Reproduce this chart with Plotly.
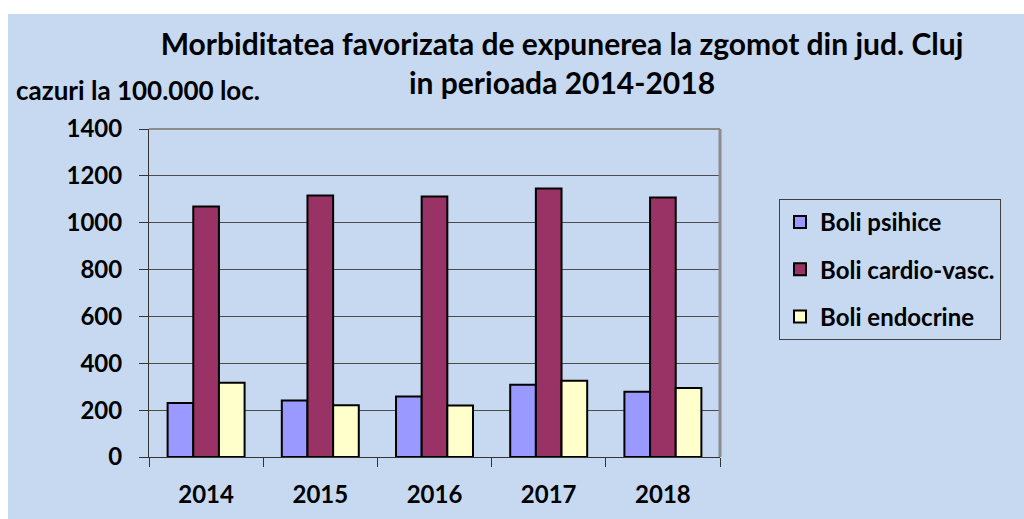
import plotly.graph_objects as go

years = ["2014", "2015", "2016", "2017", "2018"]
series_names = ["Boli psihice", "Boli cardio-vasc.", "Boli endocrine"]
boli_psihice = [230, 241, 258, 308, 279]
boli_cardio = [1069, 1116, 1112, 1146, 1108]
boli_endocrine = [317, 221, 220, 325, 294]
colors = ["#9999FF", "#993366", "#FFFFCC"]
y_ticks = [0, 200, 400, 600, 800, 1000, 1200, 1400]

W, H = 1024, 519
L, R, T, B = 149, 720, 129, 457
pw, ph = R - L, B - T

def px(x):
    return (x - L) / pw

def py(y):
    return (B - y) / ph

FONT = "Lato"
BG = "#C6D9F1"

fig = go.Figure()
for i, (name, vals) in enumerate(zip(series_names, [boli_psihice, boli_cardio, boli_endocrine])):
    fig.add_trace(go.Bar(
        x=years, y=vals, name=name, legendgroup=name,
        marker=dict(color=colors[i], line=dict(color="black", width=2)),
    ))

fig.update_layout(
    width=W, height=H,
    margin=dict(l=L, r=W - R, t=T, b=H - B, pad=0),
    paper_bgcolor=BG, plot_bgcolor=BG,
    barmode="group", bargap=0.326, bargroupgap=0,
    font=dict(family=FONT, color="black"),
    title=dict(
        text="<b>Morbiditatea favorizata de expunerea la zgomot din jud. Cluj<br>in perioada 2014-2018</b>",
        x=562 / W, xref="container", xanchor="center",
        y=1 - 55 / H, yref="container", yanchor="top",
        font=dict(family=FONT, size=30, color="black"),
    ),
    legend=dict(
        x=px(779), y=py(199), xanchor="left", yanchor="top",
        bgcolor=BG, bordercolor="#404040", borderwidth=1,
        font=dict(family=FONT, size=24, color="black", weight="bold"),
        tracegroupgap=13, traceorder="grouped",
        entrywidth=196, entrywidthmode="pixels",
    ),
    showlegend=True,
    xaxis=dict(
        type="category", tickson="boundaries", ticks="outside", ticklen=9,
        tickcolor="#333333", showline=True, linecolor="#333333", linewidth=1,
        showgrid=False, ticklabelstandoff=16,
        tickfont=dict(family=FONT, size=24, color="black", weight="bold"),
    ),
    yaxis=dict(
        range=[0, 1400], tickvals=y_ticks, ticks="outside", ticklen=9,
        tickcolor="#333333", showline=True, linecolor="#333333", linewidth=1,
        showgrid=True, gridcolor="#4D4D4D", gridwidth=1, zeroline=False,
        ticklabelstandoff=12,
        tickfont=dict(family=FONT, size=24, color="black", weight="bold"),
    ),
    annotations=[dict(
        text="<b>cazuri la 100.000 loc.</b>", xref="paper", yref="paper",
        x=px(14), y=py(90), xanchor="left", yanchor="middle", showarrow=False,
        font=dict(family=FONT, size=26, color="black"),
    )],
    shapes=[
        dict(type="rect", xref="paper", yref="paper", x0=px(0), x1=px(W), y0=py(0), y1=py(14),
             fillcolor="white", line=dict(width=0), layer="below"),
        dict(type="rect", xref="paper", yref="paper", x0=px(0), x1=px(8), y0=py(0), y1=py(H),
             fillcolor="white", line=dict(width=0), layer="below"),
        dict(type="line", xref="paper", yref="paper", x0=0, x1=1, y0=1, y1=1,
             line=dict(color="#8C8C8C", width=2), layer="above"),
        dict(type="line", xref="paper", yref="paper", x0=1, x1=1, y0=0, y1=1,
             line=dict(color="#8C8C8C", width=3), layer="above"),
    ],
)

fig.write_html("out.html", config={"displayModeBar": False},
               post_script="document.body.style.margin='0';document.body.style.padding='0';")
